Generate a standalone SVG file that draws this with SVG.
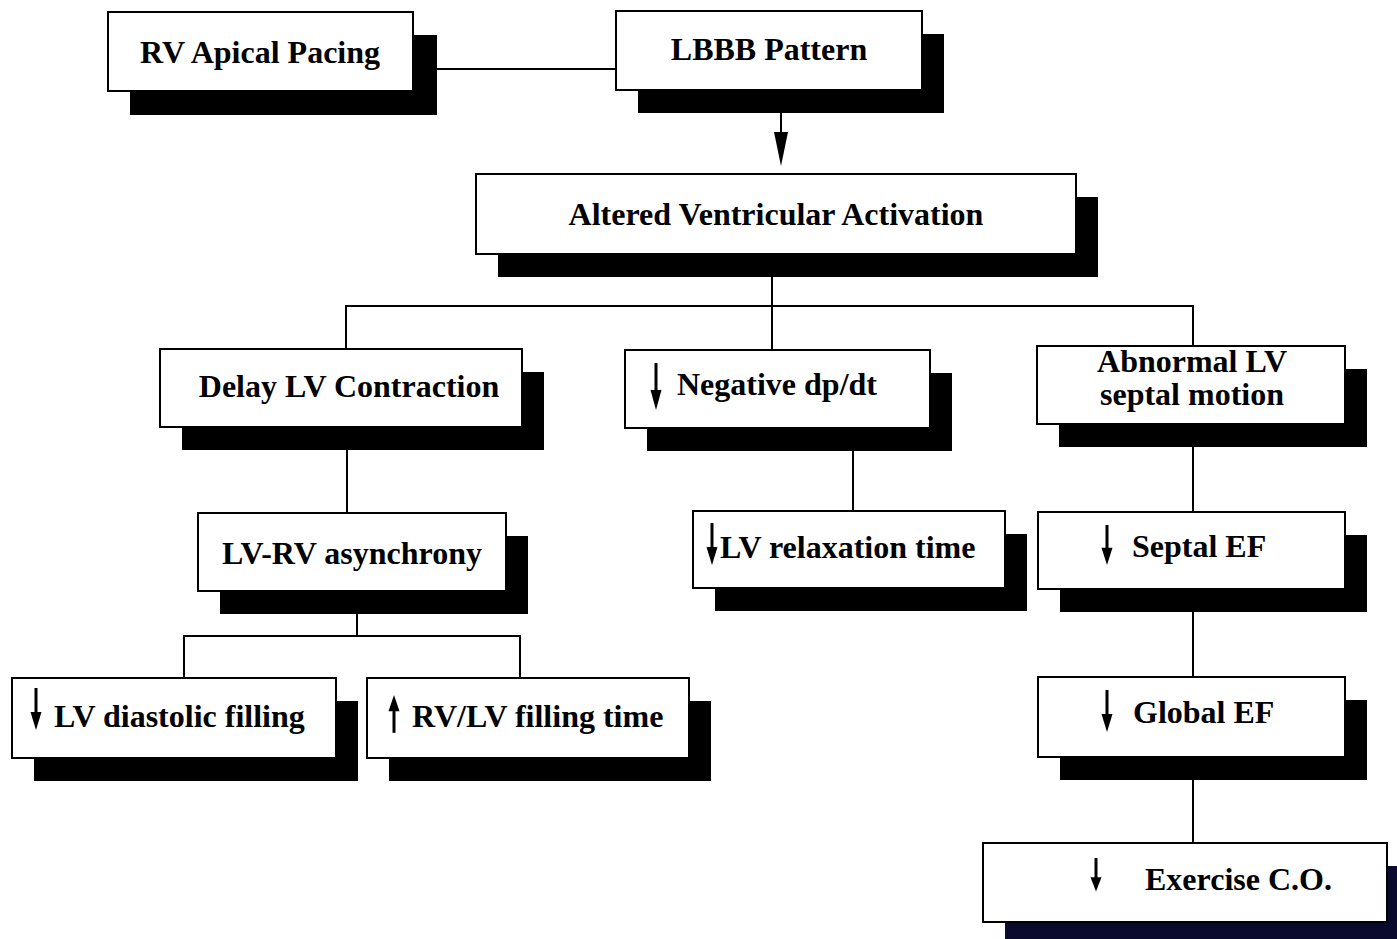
<svg xmlns="http://www.w3.org/2000/svg" xmlns:xlink="http://www.w3.org/1999/xlink" width="1397" height="939" viewBox="0 0 1397 939">
<style>
.sh{fill:#000}
.bx{fill:#fff;stroke:#000;stroke-width:2}
.t{font-family:"Liberation Serif","Times New Roman",serif;font-weight:bold;font-size:32px;fill:#000}
.m{text-anchor:middle}
.c{fill:none;stroke:#000;stroke-width:2}
</style>
<defs>
<g id="dn"><line x1="0" y1="0" x2="0" y2="28" stroke="#000" stroke-width="3"/><polygon points="-5.5,24 5.5,24 0,42" fill="#000"/></g>
<g id="up"><line x1="0" y1="14" x2="0" y2="42" stroke="#000" stroke-width="3"/><polygon points="-5.5,18 5.5,18 0,0" fill="#000"/></g>
</defs>
<rect width="1397" height="939" fill="#fff"/>
<g id="connectors">
<line class="c" x1="413" y1="69" x2="616" y2="69"/>
<line class="c" x1="781" y1="113" x2="781" y2="133"/>
<polygon points="774,132 788,132 781,166" fill="#000"/>
<polyline class="c" points="772,277 772,306"/>
<polyline class="c" points="346,349 346,306 1193,306 1193,346"/>
<line class="c" x1="772" y1="306" x2="772" y2="350"/>
<line class="c" x1="347" y1="450" x2="347" y2="513"/>
<line class="c" x1="853" y1="451" x2="853" y2="511"/>
<line class="c" x1="1193" y1="447" x2="1193" y2="512"/>
<line class="c" x1="1193" y1="612" x2="1193" y2="677"/>
<line class="c" x1="1193" y1="780" x2="1193" y2="843"/>
<line class="c" x1="357" y1="614" x2="357" y2="636"/>
<polyline class="c" points="184,678 184,636 520,636 520,678"/>
</g>
<g id="rv-apical-pacing">
<rect class="sh" x="130" y="35" width="307" height="80"/>
<rect class="bx" x="108" y="12" width="305" height="79"/>
<text class="t m" x="260" y="63">RV Apical Pacing</text>
</g>
<g id="lbbb-pattern">
<rect class="sh" x="638" y="34" width="306" height="79"/>
<rect class="bx" x="616" y="11" width="306" height="79"/>
<text class="t m" x="769" y="60">LBBB Pattern</text>
</g>
<g id="altered-ventricular-activation">
<rect class="sh" x="498" y="197" width="600" height="80"/>
<rect class="bx" x="476" y="174" width="600" height="80"/>
<text class="t m" x="776" y="225">Altered Ventricular Activation</text>
</g>
<g id="delay-lv-contraction">
<rect class="sh" x="182" y="372" width="362" height="78"/>
<rect class="bx" x="160" y="349" width="362" height="78"/>
<text class="t m" x="349" y="397">Delay LV Contraction</text>
</g>
<g id="negative-dpdt">
<rect class="sh" x="647" y="373" width="305" height="78"/>
<rect class="bx" x="625" y="350" width="305" height="78"/>
<use xlink:href="#dn" transform="translate(656,363) scale(1,1.12)"/>
<text class="t" x="677" y="395">Negative dp/dt</text>
</g>
<g id="abnormal-lv-septal-motion">
<rect class="sh" x="1059" y="369" width="308" height="78"/>
<rect class="bx" x="1037" y="346" width="308" height="78"/>
<text class="t m" x="1192" y="372">Abnormal LV</text>
<text class="t m" x="1192" y="405">septal motion</text>
</g>
<g id="lv-rv-asynchrony">
<rect class="sh" x="220" y="536" width="308" height="78"/>
<rect class="bx" x="198" y="513" width="308" height="78"/>
<text class="t m" x="352" y="564">LV-RV asynchrony</text>
</g>
<g id="lv-relaxation-time">
<rect class="sh" x="715" y="534" width="312" height="77"/>
<rect class="bx" x="693" y="511" width="312" height="77"/>
<use xlink:href="#dn" transform="translate(712,523)"/>
<text class="t" x="720" y="558">LV relaxation time</text>
</g>
<g id="septal-ef">
<rect class="sh" x="1060" y="535" width="307" height="77"/>
<rect class="bx" x="1038" y="512" width="307" height="77"/>
<use xlink:href="#dn" transform="translate(1107,525) scale(1,0.95)"/>
<text class="t" x="1132" y="557">Septal EF</text>
</g>
<g id="lv-diastolic-filling">
<rect class="sh" x="34" y="701" width="324" height="80"/>
<rect class="bx" x="12" y="678" width="324" height="80"/>
<use xlink:href="#dn" transform="translate(36,688)"/>
<text class="t" x="54" y="727">LV diastolic filling</text>
</g>
<g id="rv-lv-filling-time">
<rect class="sh" x="389" y="701" width="322" height="80"/>
<rect class="bx" x="367" y="678" width="322" height="80"/>
<use xlink:href="#up" transform="translate(394,695) scale(1,0.9)"/>
<text class="t" x="412" y="727">RV/LV filling time</text>
</g>
<g id="global-ef">
<rect class="sh" x="1060" y="700" width="307" height="80"/>
<rect class="bx" x="1038" y="677" width="307" height="80"/>
<use xlink:href="#dn" transform="translate(1107,690)"/>
<text class="t" x="1133" y="723">Global EF</text>
</g>
<g id="exercise-co">
<rect x="1005" y="866" width="404" height="79" fill="#0a0a2e"/>
<rect class="bx" x="983" y="843" width="404" height="79"/>
<use xlink:href="#dn" transform="translate(1096,858) scale(1,0.8)"/>
<text class="t" x="1145" y="890">Exercise C.O.</text>
</g>
</svg>
